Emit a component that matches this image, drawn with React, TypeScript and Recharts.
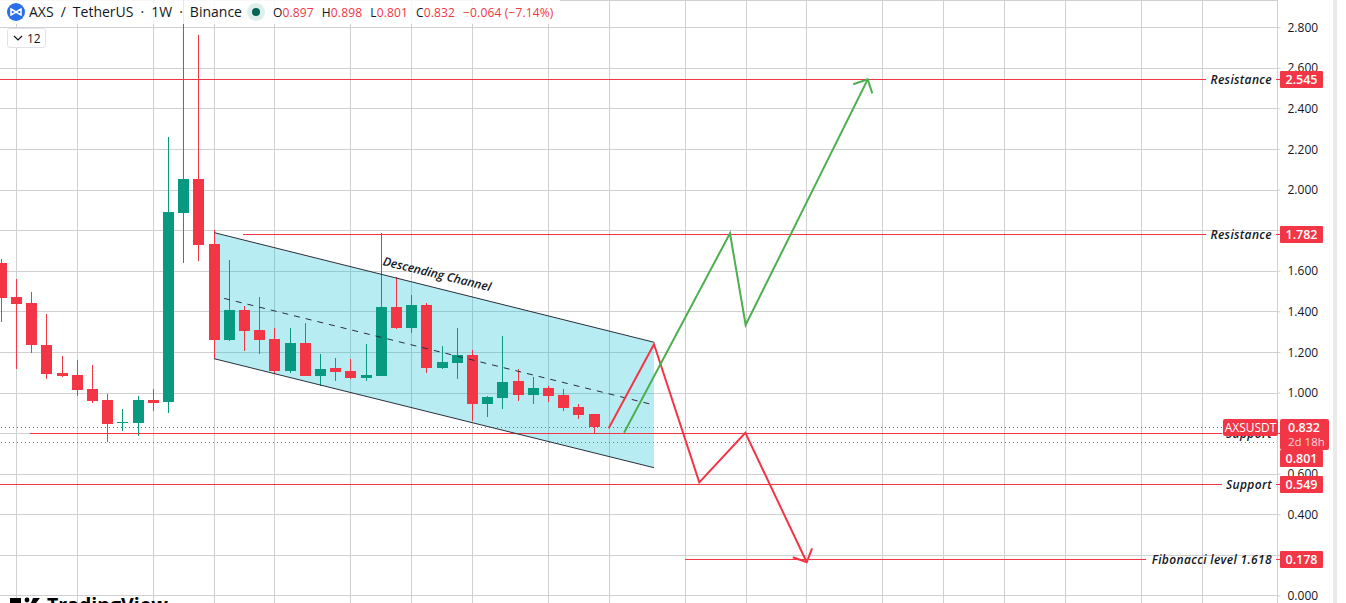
import { ComposedChart, Bar, Line, Area, XAxis, YAxis, CartesianGrid, ReferenceLine, ReferenceDot } from "recharts";

// weekly AXSUSDT candles
const opens = [1.640, 1.473, 1.443, 1.236, 1.099, 1.089, 1.020, 0.966, 0.854, 0.854, 0.966, 0.957, 1.888, 2.054, 1.734, 1.263, 1.409, 1.310, 1.266, 1.108, 1.246, 1.085, 1.123, 1.108, 1.075, 1.085, 1.424, 1.322, 1.433, 1.125, 1.149, 1.187, 0.947, 0.977, 1.059, 0.992, 1.025, 0.990, 0.931, 0.897];
const highs = [1.660, 1.560, 1.498, 1.389, 1.182, 1.163, 1.138, 0.995, 0.921, 0.985, 1.020, 2.261, 3.100, 2.764, 1.803, 1.655, 1.429, 1.473, 1.320, 1.320, 1.345, 1.192, 1.172, 1.167, 1.241, 1.787, 1.571, 1.483, 1.443, 1.232, 1.320, 1.212, 0.985, 1.281, 1.118, 1.079, 1.034, 1.020, 0.947, 0.898];
const lows = [1.351, 1.115, 1.199, 1.070, 1.080, 0.987, 0.952, 0.760, 0.814, 0.790, 0.913, 0.903, 1.642, 1.652, 1.169, 1.256, 1.208, 1.194, 1.094, 1.100, 1.085, 1.036, 1.061, 1.070, 1.061, 1.085, 1.317, 1.297, 1.100, 1.120, 1.070, 0.864, 0.883, 0.923, 0.962, 0.947, 0.957, 0.913, 0.873, 0.801];
const closes = [1.469, 1.440, 1.238, 1.095, 1.085, 1.016, 0.962, 0.849, 0.857, 0.966, 0.952, 1.892, 2.054, 1.731, 1.263, 1.409, 1.307, 1.263, 1.108, 1.246, 1.085, 1.118, 1.103, 1.075, 1.089, 1.424, 1.322, 1.433, 1.125, 1.153, 1.187, 0.947, 0.980, 1.054, 0.992, 1.025, 0.987, 0.928, 0.893, 0.832];

const candles = opens.map((o, i) => ({ i, o, h: highs[i], l: lows[i], c: closes[i] }));

const priceTicks = [0, 0.2, 0.4, 0.6, 0.8, 1, 1.2, 1.4, 1.6, 1.8, 2, 2.2, 2.4, 2.6, 2.8];
const monthLines = [1, 5, 10, 14, 18, 23, 27, 31, 36, 40, 45, 49, 53, 58, 62, 66, 70, 75, 79];

// drawings on the chart
const channelBand = [
  { i: 14, band: [1.169, 1.79] },
  { i: 42.94, band: [0.632, 1.25] },
];
const channelTop = [{ i: 14, p: 1.79 }, { i: 42.94, p: 1.25 }];
const channelBottom = [{ i: 14, p: 1.169 }, { i: 42.94, p: 0.632 }];
const channelMid = [{ i: 14.66, p: 1.466 }, { i: 42.94, p: 0.941 }];

const redPath = [
  { i: 39.96, p: 0.826 },
  { i: 42.94, p: 1.24 },
  { i: 45.92, p: 0.56 },
  { i: 48.95, p: 0.804 },
  { i: 52.99, p: 0.166 },
];
const redHead = [{ i: 52.07, p: 0.191 }, { i: 52.99, p: 0.166 }, { i: 53.34, p: 0.235 }];
const greenPath = [
  { i: 40.97, p: 0.804 },
  { i: 47.94, p: 1.787 },
  { i: 48.97, p: 1.335 },
  { i: 57, p: 2.545 },
];
const greenHead = [{ i: 56.05, p: 2.521 }, { i: 57, p: 2.545 }, { i: 57.3, p: 2.476 }];

const levelPrices = [2.545, 1.782, 0.801, 0.549, 0.178];
const levelNames = ["Resistance", "Resistance", "Support", "Support", "Fibonacci level 1.618"];
const levelFrom = [-0.09, 15.9, 1.89, -0.09, 44.98];
const levelTo = [79.26, 79.26, 80.3, 80.3, 75.3];
const lastPrice = 0.832;
const lastLow = 0.757;

const RED = "#f23645";
const GREEN = "#089981";
const ARROW_GREEN = "#4caf50";
const GRID = "#d0d0d0";
const TEXT = "#131722";
const FONT = "'Open Sans', sans-serif";

const LEFT_I = -0.0855;
const RIGHT_I = 83.96;
const Y_DOMAIN = [-0.0345, 2.936];

function Candle(props: any) {
  const { x, y, width, height, payload } = props;
  const d = payload;
  const unit = Math.abs(height) / (d.h - d.l);
  const cx = Math.floor(x + width / 2);
  const color = d.c >= d.o ? GREEN : RED;
  const top = Math.round(y + (d.h - Math.max(d.o, d.c)) * unit);
  const bodyH = Math.max(Math.round(Math.abs(d.c - d.o) * unit), 1);
  return (
    <g>
      <rect x={cx} y={Math.round(y)} width={1} height={Math.round(Math.abs(height))} fill={color} />
      <rect x={cx - 5} y={top} width={11} height={bodyH} fill={color} />
    </g>
  );
}

function levelTag(price: number, name: string) {
  // the 0.801 tag is pushed down under the countdown box
  const shift = price === 0.801 ? 25 : 0;
  return (props: any) => {
    const y = Math.round(props.viewBox.y - 0.5) + 0.5;
    return (
      <g>
        <text x={1272} y={y + 4} textAnchor="end" fontFamily={FONT} fontStyle="italic" fontWeight={600} fontSize={12} letterSpacing={0.35} fill={TEXT}>
          {name}
        </text>
        <rect x={1276} y={y - 0.5} width={4} height={1} fill={RED} />
        <rect x={1280} y={y + shift - 8.5} width={43} height={17} rx={1} fill={RED} />
        <text x={1301.5} y={y + shift + 4.5} textAnchor="middle" fontFamily={FONT} fontWeight={600} fontSize={12.5} fill="#fff">
          {price.toFixed(3)}
        </text>
      </g>
    );
  };
}

function lastTag(props: any) {
  const y = Math.round(props.viewBox.y - 0.5) + 0.5;
  return (
    <g>
      <rect x={1223} y={y - 8.5} width={55} height={17} rx={2} fill={RED} />
      <text x={1250.5} y={y + 4} textAnchor="middle" fontFamily={FONT} fontSize={12} fill="#fff">
        AXSUSDT
      </text>
      <rect x={1280} y={y - 8.5} width={49} height={31} rx={2} fill={RED} />
      <text x={1288} y={y + 4.5} fontFamily={FONT} fontWeight={600} fontSize={12.5} fill="#fff">
        {lastPrice.toFixed(3)}
      </text>
      <text x={1288} y={y + 18} fontFamily={FONT} fontSize={11.5} fill="#fcd9dc">
        2d 18h
      </text>
    </g>
  );
}

function channelLabel(props: any) {
  const { x, y } = props.viewBox;
  return (
    <text x={x} y={y} textAnchor="middle" transform={`rotate(13.7 ${x} ${y})`} fontFamily={FONT} fontStyle="italic" fontWeight={600} fontSize={12} fill={TEXT}>
      Descending Channel
    </text>
  );
}

function Header() {
  const val = { color: RED, marginRight: 8 };
  return (
    <div style={{ position: "absolute", left: 0, top: 0, width: 560, height: 24, fontFamily: FONT, color: TEXT, background: "rgba(255,255,255,0.85)" }}>
      <svg width={18} height={18} style={{ position: "absolute", left: 7, top: 3 }}>
        <circle cx={9} cy={9} r={9} fill="#2a6fe8" />
        <path d="M4 6 L9 9 L14 6 L14 12 L9 9 L4 12 Z" fill="none" stroke="#fff" strokeWidth={1.5} />
      </svg>
      <div style={{ position: "absolute", left: 29, top: 2, fontSize: 14, wordSpacing: 3.4, whiteSpace: "nowrap" }}>AXS / TetherUS · 1W · Binance</div>
      <div style={{ position: "absolute", left: 247, top: 3, width: 18, height: 18, borderRadius: 9, background: "#dcefec" }} />
      <div style={{ position: "absolute", left: 252, top: 8, width: 8, height: 8, borderRadius: 4, background: "#056656" }} />
      <div style={{ position: "absolute", left: 273, top: 4, fontSize: 12, letterSpacing: 0.15, whiteSpace: "nowrap" }}>
        O<span style={val}>0.897</span>H<span style={val}>0.898</span>L<span style={val}>0.801</span>C<span style={val}>0.832</span>
        <span style={{ color: RED }}>−0.064 (−7.14%)</span>
      </div>
    </div>
  );
}

export default function App() {
  return (
    <div style={{ position: "absolute", left: 0, top: 0, width: 1346, height: 603, overflow: "hidden", background: "#fff" }}>
      <ComposedChart width={1333} height={603} data={candles} margin={{ top: 0, right: 0, bottom: 0, left: 0 }}>
        <CartesianGrid stroke={GRID} verticalValues={monthLines} shapeRendering="crispEdges" />
        <XAxis dataKey="i" type="number" domain={[LEFT_I, RIGHT_I]} allowDataOverflow hide height={0} />
        <YAxis
          orientation="right"
          width={55.5}
          domain={Y_DOMAIN}
          allowDataOverflow
          ticks={priceTicks}
          interval={0}
          tickFormatter={(v: number) => v.toFixed(3)}
          tick={{ fontSize: 12, fill: TEXT, fontFamily: FONT }}
          tickSize={3}
          tickMargin={7}
          tickLine={{ stroke: GRID }}
          axisLine={{ stroke: GRID }}
        />
        <Area data={channelBand} dataKey="band" type="linear" stroke="none" fill="#00bcd4" fillOpacity={0.28} isAnimationActive={false} />
        <Bar dataKey={(d: any) => [d.l, d.h]} barSize={11} shape={Candle} isAnimationActive={false} />
        <ReferenceLine y={lastPrice} stroke={RED} strokeDasharray="1 3" shapeRendering="crispEdges" />
        <ReferenceLine y={lastLow} stroke="#787b86" strokeDasharray="1 3" shapeRendering="crispEdges" />
        {levelPrices.map((p, k) => (
          <ReferenceLine key={k} segment={[{ x: levelFrom[k], y: p }, { x: levelTo[k], y: p }]} stroke={RED} ifOverflow="visible" shapeRendering="crispEdges" />
        ))}
        <Line data={channelTop} dataKey="p" stroke="#2a2e39" strokeWidth={1} dot={false} isAnimationActive={false} />
        <Line data={channelBottom} dataKey="p" stroke="#2a2e39" strokeWidth={1} dot={false} isAnimationActive={false} />
        <Line data={channelMid} dataKey="p" stroke="#2a2e39" strokeWidth={1} strokeDasharray="6 6" dot={false} isAnimationActive={false} />
        <Line data={redPath} dataKey="p" stroke={RED} strokeWidth={2} dot={false} isAnimationActive={false} />
        <Line data={redHead} dataKey="p" stroke={RED} strokeWidth={2} dot={false} isAnimationActive={false} />
        <Line data={greenPath} dataKey="p" stroke={ARROW_GREEN} strokeWidth={2} dot={false} isAnimationActive={false} />
        <Line data={greenHead} dataKey="p" stroke={ARROW_GREEN} strokeWidth={2} dot={false} isAnimationActive={false} />
        <ReferenceDot x={28.6} y={1.566} r={0} ifOverflow="visible" label={channelLabel} />
      </ComposedChart>

      {/* price tags have to sit over the axis labels, so they get their own layer on the same scales */}
      <div style={{ position: "absolute", left: 0, top: 0 }}>
        <ComposedChart width={1333} height={603} data={candles} margin={{ top: 0, right: 55.5, bottom: 0, left: 0 }}>
          <XAxis dataKey="i" type="number" domain={[LEFT_I, RIGHT_I]} allowDataOverflow hide height={0} />
          <YAxis domain={Y_DOMAIN} allowDataOverflow hide width={0} />
          {levelPrices.map((p, k) => (
            <ReferenceDot key={k} x={RIGHT_I} y={p} r={0} ifOverflow="visible" label={levelTag(p, levelNames[k])} />
          ))}
          <ReferenceDot x={RIGHT_I} y={lastPrice} r={0} ifOverflow="visible" label={lastTag} />
        </ComposedChart>
      </div>

      <Header />
      <div style={{ position: "absolute", left: 7, top: 28, width: 37, height: 18, border: "1px solid #e0e3eb", borderRadius: 3, background: "#fff", fontFamily: FONT, fontSize: 12, color: TEXT }}>
        <svg width={10} height={8} style={{ position: "absolute", left: 5, top: 6 }}>
          <path d="M1 1 L5 5 L9 1" fill="none" stroke={TEXT} strokeWidth={1.2} />
        </svg>
        <span style={{ position: "absolute", left: 19, top: 1 }}>12</span>
      </div>

      <svg width={32} height={6} style={{ position: "absolute", left: 10, top: 597 }}>
        <rect x={0} y={1} width={11} height={5} fill="#000" />
        <circle cx={17} cy={3} r={2.4} fill="#000" />
        <path d="M23 1 H30 L26 6 H21 Z" fill="#000" />
      </svg>
      <div style={{ position: "absolute", left: 47, top: 591, fontFamily: FONT, fontWeight: 700, fontSize: 19.5, color: "#000", whiteSpace: "nowrap" }}>TradingView</div>

      <div style={{ position: "absolute", left: 1333, top: 0, width: 4, height: 603, background: "#eaeaea" }} />
    </div>
  );
}
